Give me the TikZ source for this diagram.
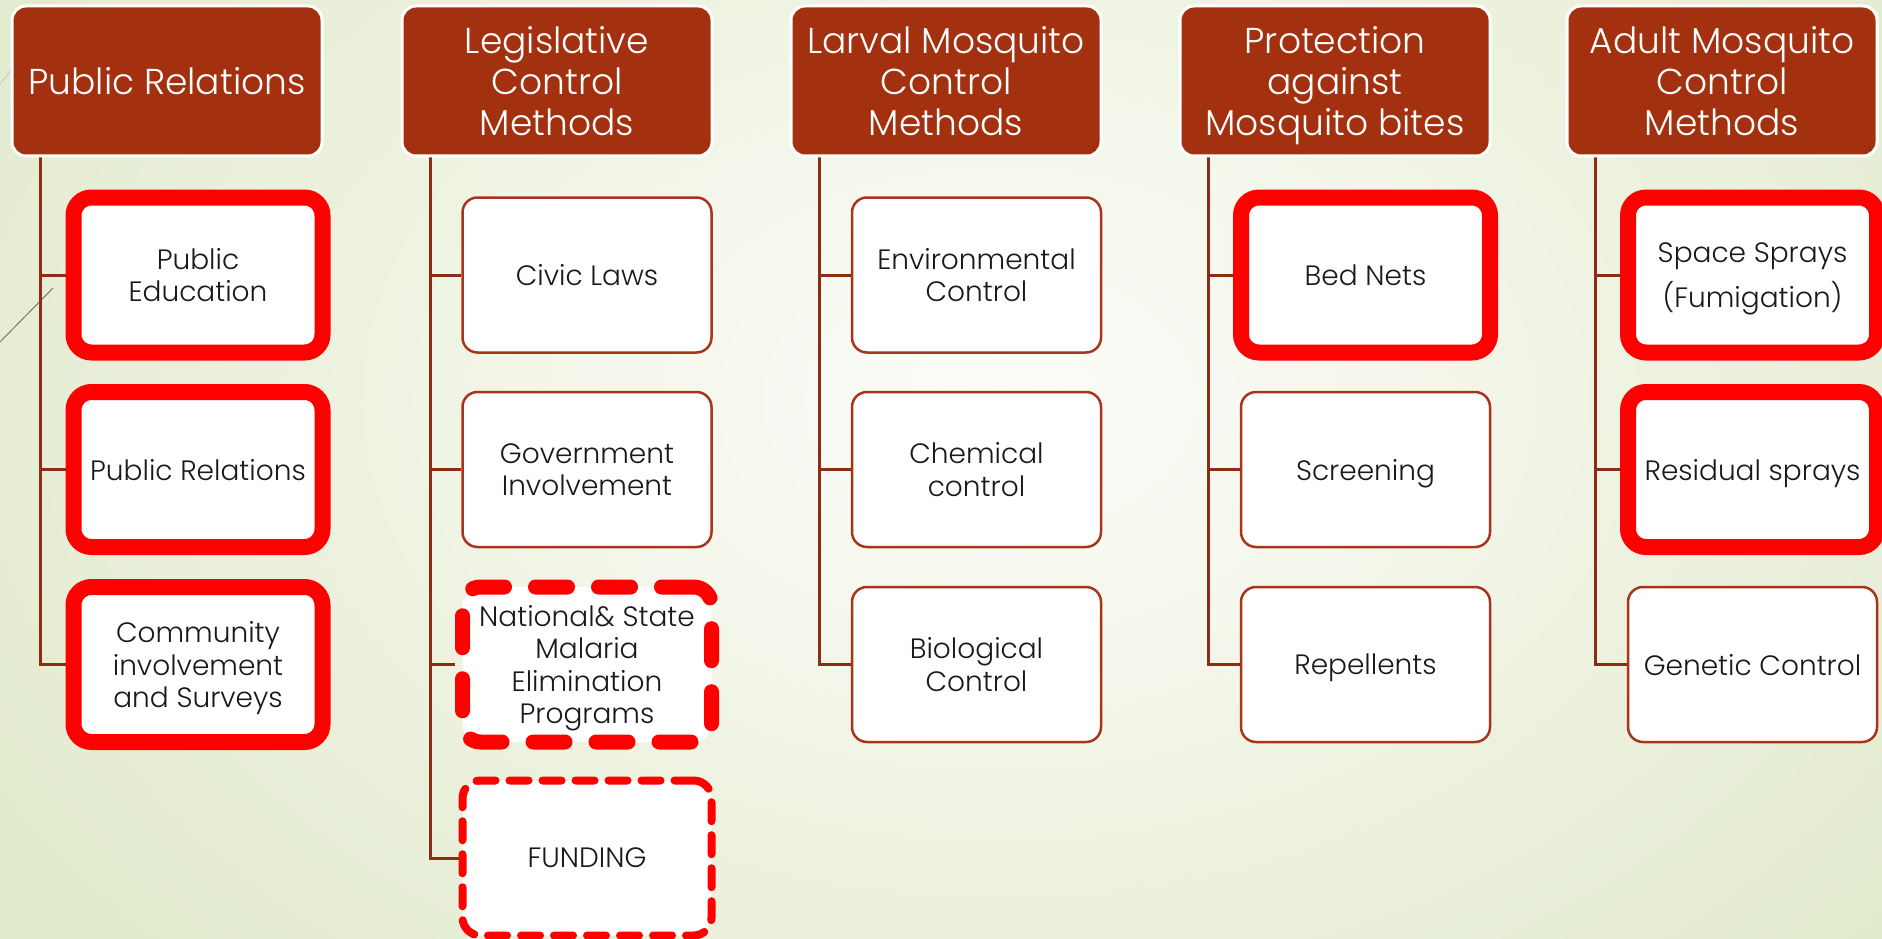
\documentclass[tikz,border=0pt]{standalone}
\usepackage{fontspec}
\setmainfont{Poppins}[UprightFont=* Light]
\usetikzlibrary{backgrounds,calc}
\definecolor{hdr}{HTML}{A3300F}
\definecolor{conn}{HTML}{8C2C14}
\definecolor{bord}{HTML}{A8351B}
\definecolor{bgout}{HTML}{DFE8C8}
\definecolor{bgin}{HTML}{FDFDFA}
\definecolor{deco}{HTML}{7A7A62}
\begin{document}
\begin{tikzpicture}[x=1pt,y=-1pt,
  hdrbox/.style={rectangle, rounded corners=14pt, fill=hdr, draw=white, line width=3pt,
    minimum width=310pt, minimum height=150pt, text=white, align=center,
    font=\fontsize{36}{41}\selectfont, inner sep=0pt, text depth=0pt},
  kid/.style={rectangle, rounded corners=15pt, fill=white, draw=bord, line width=2.5pt,
    minimum width=249pt, minimum height=155pt, align=center, text=black!90,
    font=\fontsize{28}{32.5}\selectfont, inner sep=0pt, text depth=0pt},
  hot/.style={draw=red, line width=16pt, rounded corners=18pt},
  hotdash/.style={draw=red, line width=15pt, line cap=round, rounded corners=18pt,
    dash pattern=on 32pt off 31pt},
  thindash/.style={draw=red, line width=8pt, line cap=round, rounded corners=18pt,
    dash pattern=on 19pt off 14pt},
  link/.style={draw=conn, line width=3pt}
]
\useasboundingbox (0,0) rectangle (1882,939);

% headers
\node[hdrbox] (h1) at (167,81) {Public Relations};
\node[hdrbox] (h2) at (557,81) {Legislative\\Control\\Methods};
\node[hdrbox] (h3) at (946,81) {Larval Mosquito\\Control\\Methods};
\node[hdrbox] (h4) at (1335,81) {Protection\\against\\Mosquito bites};
\node[hdrbox] (h5) at (1722,81) {Adult Mosquito\\Control\\Methods};

% column 1
\node[kid,hot] (c11) at (198,275) {Public\\Education};
\node[kid,hot] (c12) at (198,469.5) {Public Relations};
\node[kid,hot] (c13) at (198,664.5) {Community\\involvement\\and Surveys};

% column 2
\node[kid] (c21) at (587,275) {Civic Laws};
\node[kid] (c22) at (587,469.5) {Government\\Involvement};
\node[kid,hotdash] (c23) at (587,664.5) {National\& State\\Malaria\\Elimination\\Programs};
\node[kid,thindash] (c24) at (587,858) {FUNDING};

% column 3
\node[kid] (c31) at (976.5,275) {Environmental\\Control};
\node[kid] (c32) at (976.5,469.5) {Chemical\\control};
\node[kid] (c33) at (976.5,664.5) {Biological\\Control};

% column 4
\node[kid,hot] (c41) at (1365.5,275) {Bed Nets};
\node[kid] (c42) at (1365.5,469.5) {Screening};
\node[kid] (c43) at (1365.5,664.5) {Repellents};

% column 5
\node[kid,hot] (c51) at (1752.5,275) {Space Sprays\\[11pt](Fumigation)};
\node[kid,hot] (c52) at (1752.5,469.5) {Residual sprays};
\node[kid] (c53) at (1752.5,664.5) {Genetic Control};

\begin{pgfonlayer}{background}
  \shade[inner color=bgin, outer color=bgout] (-300,-500) rectangle (2300,1300);
  \draw[deco, line width=1pt] (0,342) -- (53,288);
  \draw[deco!40, line width=0.8pt] (0,84) -- (16,64);
  \coordinate (t1) at ([xshift=30pt]h1.south west);
  \coordinate (t2) at ([xshift=30pt]h2.south west);
  \coordinate (t3) at ([xshift=30pt]h3.south west);
  \coordinate (t4) at ([xshift=30pt]h4.south west);
  \coordinate (t5) at ([xshift=30pt]h5.south west);
  \draw[link] (t1) |- (c11.west);
  \draw[link] (t1) |- (c12.west);
  \draw[link] (t1) |- (c13.west);
  \draw[link] (t2) |- (c21.west);
  \draw[link] (t2) |- (c22.west);
  \draw[link] (t2) |- (c23.west);
  \draw[link] (t2) |- (c24.west);
  \draw[link] (t3) |- (c31.west);
  \draw[link] (t3) |- (c32.west);
  \draw[link] (t3) |- (c33.west);
  \draw[link] (t4) |- (c41.west);
  \draw[link] (t4) |- (c42.west);
  \draw[link] (t4) |- (c43.west);
  \draw[link] (t5) |- (c51.west);
  \draw[link] (t5) |- (c52.west);
  \draw[link] (t5) |- (c53.west);
\end{pgfonlayer}
\end{tikzpicture}
\end{document}
